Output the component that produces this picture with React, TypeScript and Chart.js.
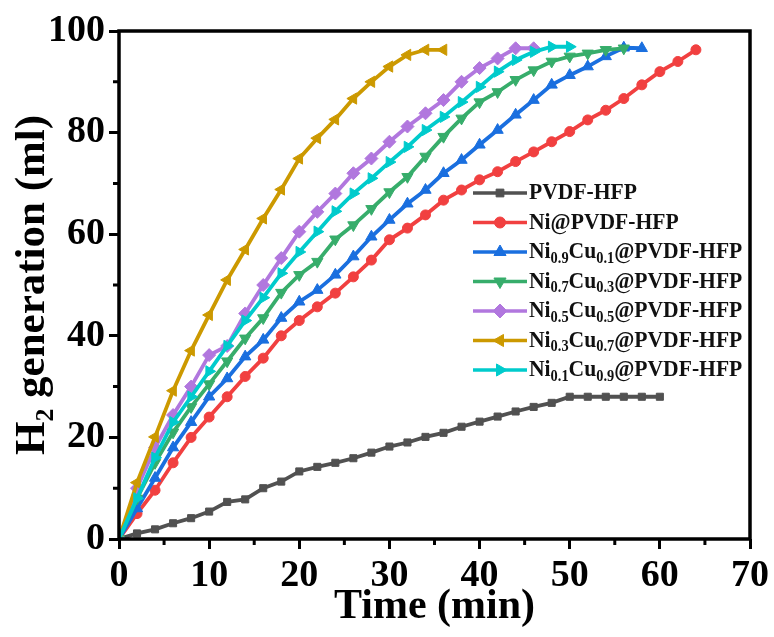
import React, { useEffect, useRef } from 'react';
import { Chart, registerables } from 'chart.js';
import { drawPoint } from 'chart.js/helpers';

Chart.register(...registerables);

const times = [0, 2, 4, 6, 8, 10, 12, 14, 16, 18, 20, 22, 24, 26, 28, 30, 32, 34, 36, 38, 40, 42, 44, 46, 48, 50, 52, 54, 56, 58, 60, 62, 64];

const pvdf = [0, 1.1, 1.9, 3.1, 4.1, 5.4, 7.3, 7.8, 10, 11.3, 13.3, 14.2, 15, 15.9, 17, 18.2, 19, 20.1, 20.9, 22.1, 23.1, 24.1, 25.1, 26, 26.8, 28, 28, 28, 28, 28, 28];
const niPvdf = [0, 5, 9.6, 15, 20, 24, 28, 32, 35.6, 40, 43, 45.7, 48.4, 51.6, 54.9, 58.9, 61.2, 63.8, 66.7, 68.7, 70.7, 72.3, 74.3, 76.2, 78.2, 80.2, 82.5, 84.4, 86.7, 89.4, 92, 94, 96.3];
const ni09 = [0, 6, 12, 18, 23, 28, 31.6, 35.9, 39.2, 43.5, 46.7, 49, 52, 55.6, 59.5, 62.8, 66, 68.7, 72, 74.6, 77.6, 80.5, 83.5, 86.4, 89.4, 91.3, 93, 95, 96.7, 96.6];
const ni07 = [0, 8, 15, 21, 26, 30.5, 35, 39.5, 43.5, 48.5, 52, 54.6, 59, 61.8, 65, 68.3, 71.3, 75.3, 79.2, 82.8, 86, 88, 90.4, 92.3, 94, 95, 95.6, 96.3, 96.6];
const ni05 = [0, 10, 18, 24.4, 30, 36.2, 38, 44.4, 50, 55.3, 60.5, 64.4, 68, 72, 74.9, 78.2, 81.2, 83.8, 86.4, 90, 92.7, 94.6, 96.6, 96.6];
const ni03 = [0, 11.1, 20.1, 29.2, 37.1, 44.1, 51, 57, 63.1, 68.8, 74.9, 78.9, 82.6, 86.7, 90, 93, 95.3, 96.3, 96.3];
const ni01 = [0, 8, 16, 23, 28, 33, 38, 43, 47.5, 52.3, 56.5, 60.5, 64.5, 68, 71, 74.2, 77.2, 80.5, 83.1, 86, 89, 92, 94.3, 95.9, 96.9, 96.9];

const seriesLabels = [
  'PVDF-HFP',
  'Ni@PVDF-HFP',
  'Ni_{0.9}Cu_{0.1}@PVDF-HFP',
  'Ni_{0.7}Cu_{0.3}@PVDF-HFP',
  'Ni_{0.5}Cu_{0.5}@PVDF-HFP',
  'Ni_{0.3}Cu_{0.7}@PVDF-HFP',
  'Ni_{0.1}Cu_{0.9}@PVDF-HFP',
];
const seriesValues = [pvdf, niPvdf, ni09, ni07, ni05, ni03, ni01];
const seriesColors = ['#515151', '#F14040', '#1A6FDF', '#37AD6B', '#B177DE', '#CC9900', '#00CBCC'];
const seriesStyles = ['rect', 'circle', 'triangle', 'triangle', 'rectRot', 'triangle', 'triangle'];
const seriesRotations = [0, 0, 0, 180, 0, -90, 90];
const seriesRadius = [5, 5, 6.5, 6.5, 6.5, 6.5, 6.5];

const xTicks = [0, 10, 20, 30, 40, 50, 60, 70];
const yTicks = [0, 20, 40, 60, 80, 100];
const xMinor = [5, 15, 25, 35, 45, 55, 65];
const yMinor = [10, 30, 50, 70, 90];

const FONT = "'Liberation Serif', 'Times New Roman', serif";

const framePlugin = {
  id: 'frame',
  afterDatasetsDraw(chart: any) {
    const { ctx, chartArea } = chart;
    const xs = chart.scales.x;
    const ys = chart.scales.y;
    ctx.save();
    ctx.strokeStyle = '#000';
    ctx.lineWidth = 3.5;
    ctx.strokeRect(chartArea.left, chartArea.top, chartArea.right - chartArea.left, chartArea.bottom - chartArea.top);
    ctx.lineWidth = 3;
    ctx.beginPath();
    xMinor.forEach((v) => {
      const px = xs.getPixelForValue(v);
      ctx.moveTo(px, chartArea.bottom);
      ctx.lineTo(px, chartArea.bottom + 6);
    });
    yMinor.forEach((v) => {
      const py = ys.getPixelForValue(v);
      ctx.moveTo(chartArea.left, py);
      ctx.lineTo(chartArea.left - 6, py);
    });
    ctx.stroke();
    ctx.restore();
  },
};

function drawRich(ctx: any, text: string, x: number, y: number, size: number, sx: number) {
  const parts = text.split(/(_\{[^}]*\})/).filter((p) => p.length > 0);
  ctx.save();
  ctx.translate(x, y);
  ctx.scale(sx, 1);
  let cx = 0;
  parts.forEach((p) => {
    if (p.startsWith('_{')) {
      const s = p.slice(2, -1);
      ctx.font = `bold ${Math.round(size * 0.65)}px ${FONT}`;
      ctx.fillText(s, cx, size * 0.28);
      cx += ctx.measureText(s).width;
    } else {
      ctx.font = `bold ${size}px ${FONT}`;
      ctx.fillText(p, cx, 0);
      cx += ctx.measureText(p).width;
    }
  });
  ctx.restore();
}

const legendPlugin = {
  id: 'customLegend',
  afterDraw(chart: any) {
    const { ctx } = chart;
    const x0 = 473;
    const x1 = 527;
    const y0 = 193;
    const dy = 29.5;
    ctx.save();
    chart.data.datasets.forEach((ds: any, i: number) => {
      const y = y0 + i * dy;
      ctx.strokeStyle = ds.borderColor;
      ctx.lineWidth = 3.5;
      ctx.beginPath();
      ctx.moveTo(x0, y);
      ctx.lineTo(x1, y);
      ctx.stroke();
      ctx.fillStyle = ds.borderColor;
      ctx.strokeStyle = ds.borderColor;
      ctx.lineWidth = 1;
      drawPoint(ctx, { pointStyle: ds.pointStyle, rotation: ds.pointRotation, radius: ds.pointRadius + 0.5, borderWidth: 1 }, (x0 + x1) / 2, y);
      ctx.fillStyle = '#111';
      ctx.textBaseline = 'middle';
      ctx.textAlign = 'left';
      drawRich(ctx, seriesLabels[i], x1 + 2, y, 24, 0.9);
    });
    ctx.restore();
  },
};

export default function App() {
  const ref = useRef<HTMLCanvasElement | null>(null);
  useEffect(() => {
    document.body.style.margin = '0';
    const canvas = ref.current;
    if (!canvas) return;
    const datasets = seriesValues.map((vals, i) => ({
      label: seriesLabels[i],
      data: vals.map((v, j) => ({ x: times[j], y: v })),
      borderColor: seriesColors[i],
      backgroundColor: seriesColors[i],
      pointBackgroundColor: seriesColors[i],
      pointBorderColor: seriesColors[i],
      pointBorderWidth: 1,
      borderWidth: 3.8,
      pointStyle: seriesStyles[i],
      pointRotation: seriesRotations[i],
      pointRadius: seriesRadius[i],
      tension: 0,
      order: seriesValues.length - 1 - i,
    }));
    const chart = new Chart(canvas, {
      type: 'line',
      data: { datasets },
      options: {
        animation: false,
        responsive: false,
        maintainAspectRatio: false,
        layout: { padding: { top: 31, right: 24, left: 0, bottom: 0 } },
        plugins: { legend: { display: false }, tooltip: { enabled: false } },
        scales: {
          x: {
            type: 'linear',
            min: 0,
            max: 70,
            afterBuildTicks: (s: any) => { s.ticks = xTicks.map((v) => ({ value: v })); },
            afterFit: (s: any) => { s.height = 98; },
            border: { display: false },
            grid: { drawOnChartArea: false, drawTicks: true, tickLength: 10, tickWidth: 3, tickColor: '#000' },
            ticks: { color: '#000', padding: 4, maxRotation: 0, font: { family: FONT, size: 38, weight: 'bold' } },
            title: { display: true, text: 'Time (min)', color: '#000', padding: { top: 0, bottom: 9 }, font: { family: FONT, size: 42, weight: 'bold', lineHeight: 1 } },
          },
          y: {
            type: 'linear',
            min: 0,
            max: 100,
            afterBuildTicks: (s: any) => { s.ticks = yTicks.map((v) => ({ value: v })); },
            afterFit: (s: any) => { s.width = 119; },
            border: { display: false },
            grid: { drawOnChartArea: false, drawTicks: true, tickLength: 10, tickWidth: 3, tickColor: '#000' },
            ticks: { color: '#000', padding: 4, font: { family: FONT, size: 38, weight: 'bold' } },
            title: { display: true, text: 'H₂ generation (ml)', color: '#000', padding: { top: 11, bottom: 0 }, font: { family: FONT, size: 43, weight: 'bold', lineHeight: 1 } },
          },
        },
      },
      plugins: [framePlugin, legendPlugin],
    } as any);
    return () => chart.destroy();
  }, []);
  return (
    <div style={{ width: 774, height: 637 }}>
      <canvas ref={ref} width={774} height={637} style={{ display: 'block' }} />
    </div>
  );
}
